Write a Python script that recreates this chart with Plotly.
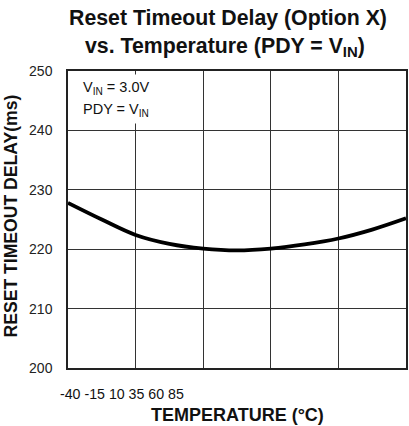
import plotly.graph_objects as go

# Data
temperature = [-40, -27.5, -15, -2.5, 10, 22.5, 35, 47.5, 60, 72.5, 85]
delay_ms = [227.8, 225.0, 222.4, 220.9, 220.1, 219.8, 220.1, 220.8, 221.8, 223.3, 225.2]
x_ticks = [-40, -15, 10, 35, 60, 85]
y_ticks = [200, 210, 220, 230, 240, 250]

FONT = "Liberation Sans, Arial, sans-serif"

fig = go.Figure()
fig.add_trace(go.Scatter(
    x=temperature, y=delay_ms, mode="lines",
    line=dict(color="black", width=3.8, shape="spline", smoothing=1.0),
    hoverinfo="skip", showlegend=False,
))

fig.update_layout(
    width=409, height=426,
    margin=dict(l=68, r=1, t=71, b=58),
    paper_bgcolor="white", plot_bgcolor="white",
    font=dict(family=FONT, color="#1a1a1a"),
    xaxis=dict(
        range=[-40, 85], tickvals=x_ticks, showticklabels=False,
        showgrid=True, gridcolor="#333", gridwidth=1.3,
        showline=True, linecolor="#222", linewidth=1.5, mirror=True,
        zeroline=False, ticks="",
    ),
    yaxis=dict(
        range=[200, 250], tickvals=y_ticks,
        showgrid=True, gridcolor="#333", gridwidth=1.3,
        showline=True, linecolor="#222", linewidth=1.5, mirror=True,
        zeroline=False, ticks="", ticklabelstandoff=11,
        tickfont=dict(size=14, family=FONT, color="#222"),
    ),
)

def ann(text, x, y, size, **kw):
    fig.add_annotation(text=text, xref="paper", yref="paper", x=x, y=y,
                       showarrow=False, font=dict(size=size, family=FONT, color="#111"), **kw)

# Title (two lines)
ann("<b>Reset Timeout Delay (Option X)</b>", 0.474, 1.178, 21.3, xanchor="center", yanchor="middle")
ann("<b>vs. Temperature (PDY = V<sub>IN</sub>)</b>", 0.465, 1.081, 21.3, xanchor="center", yanchor="middle")

# Axis titles
ann("<b>TEMPERATURE (°C)</b>", 0.5, -0.158, 18, xanchor="center", yanchor="middle")
ann("<b>RESET TIMEOUT DELAY(ms)</b>", -0.17, 0.512, 17.6, xanchor="center", yanchor="middle", textangle=-90)

# x tick labels are printed bunched together at the left in the reference
ann(" ".join(str(v) for v in x_ticks), -0.03, -0.055, 14.2, xanchor="left", yanchor="top")

# Condition labels
ann("V<sub>IN</sub> = 3.0V", 0.03, 0.943, 14.5, xanchor="left", yanchor="middle",
    bgcolor="white", borderpad=4)
ann("PDY = V<sub>IN</sub>", 0.03, 0.869, 14.5, xanchor="left", yanchor="middle",
    bgcolor="white", borderpad=4)

fig.write_html("out.html")
